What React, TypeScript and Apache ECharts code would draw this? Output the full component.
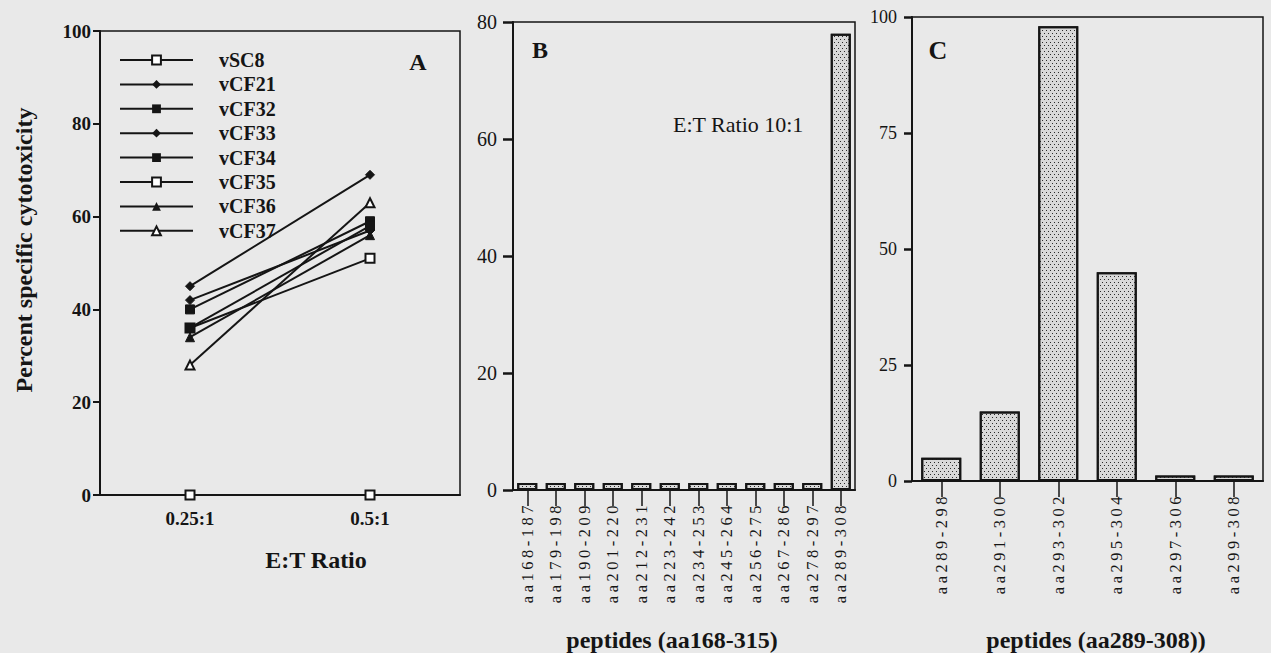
import React, { useEffect, useRef } from "react";
import * as echarts from "echarts";

const ratioCategories = ["0.25:1", "0.5:1"];
const vSC8 = [0, 0];
const vCF21 = [45, 69];
const vCF32 = [40, 59];
const vCF33 = [42, 57];
const vCF34 = [36, 58];
const vCF35 = [36, 51];
const vCF36 = [34, 56];
const vCF37 = [28, 63];

const peptidesB = [
  "aa168-187", "aa179-198", "aa190-209", "aa201-220", "aa212-231", "aa223-242",
  "aa234-253", "aa245-264", "aa256-275", "aa267-286", "aa278-297", "aa289-308",
];
const valuesB = [1.2, 1.2, 1.2, 1.2, 1.2, 1.2, 1.2, 1.2, 1.2, 1.2, 1.2, 78];

const peptidesC = ["aa289-298", "aa291-300", "aa293-302", "aa295-304", "aa297-306", "aa299-308"];
const valuesC = [5, 15, 98, 45, 1.2, 1.2];

const yTicksA = { min: 0, max: 100, interval: 20 };
const yTicksB = { min: 0, max: 80, interval: 20 };
const yTicksC = { min: 0, max: 100, interval: 25 };

const FONT = "Liberation Serif";
const INK = "#151515";

export default function App() {
  const ref = useRef<HTMLDivElement>(null);
  useEffect(() => {
    if (!ref.current) return;
    const chart = echarts.init(ref.current, undefined, { renderer: "svg" });

    const lineDefs = [
      { name: "vSC8", data: vSC8, symbol: "emptyRect", z: 2 },
      { name: "vCF21", data: vCF21, symbol: "diamond", z: 2 },
      { name: "vCF32", data: vCF32, symbol: "rect", z: 2 },
      { name: "vCF33", data: vCF33, symbol: "diamond", z: 2 },
      { name: "vCF34", data: vCF34, symbol: "rect", z: 2 },
      { name: "vCF35", data: vCF35, symbol: "emptyRect", z: 1 },
      { name: "vCF36", data: vCF36, symbol: "triangle", z: 2 },
      { name: "vCF37", data: vCF37, symbol: "emptyTriangle", z: 2 },
    ];

    const decal = {
      symbol: "rect",
      symbolSize: 1,
      color: "#2a2a2a",
      dashArrayX: [[1, 3], [0, 2, 1, 1]],
      dashArrayY: [1, 2],
    };

    const barStyle = {
      color: "#d8d8d8",
      borderColor: INK,
      borderWidth: 2,
      decal,
    };

    const axisLine = { show: true, lineStyle: { color: INK, width: 2 } };

    const txt = (text: string, x: number, y: number, size: number, bold: boolean, align = "center", rotation = 0) => ({
      type: "text",
      x,
      y,
      rotation,
      style: {
        text,
        fontFamily: FONT,
        fontSize: size,
        fontWeight: bold ? "bold" : "normal",
        fill: INK,
        textAlign: align,
        textVerticalAlign: "middle",
      },
    });

    const option: any = {
      animation: false,
      backgroundColor: "#e9e9e9",
      textStyle: { fontFamily: FONT },
      grid: [
        { left: 100, top: 31, width: 360, height: 464, show: true, borderColor: INK, borderWidth: 1.5, backgroundColor: "transparent" },
        { left: 513, top: 22, width: 342, height: 468, show: true, borderColor: INK, borderWidth: 1.5, backgroundColor: "transparent" },
        { left: 912, top: 17, width: 351, height: 464, show: true, borderColor: INK, borderWidth: 1.5, backgroundColor: "transparent" },
      ],
      legend: {
        orient: "vertical",
        left: 119,
        top: 50,
        padding: 0,
        itemWidth: 73,
        itemHeight: 11,
        itemGap: 4.4,
        data: lineDefs.map((d) => d.name),
        textStyle: {
          fontFamily: FONT,
          fontWeight: "bold",
          fontSize: 20,
          lineHeight: 20,
          color: INK,
          padding: [0, 0, 0, 21],
        },
      },
      xAxis: [
        {
          gridIndex: 0,
          type: "category",
          data: ratioCategories,
          boundaryGap: true,
          axisLine,
          axisTick: { show: false },
          axisLabel: { fontFamily: FONT, fontWeight: "bold", fontSize: 19, color: INK, margin: 14 },
          splitLine: { show: false },
        },
        {
          gridIndex: 1,
          type: "category",
          data: peptidesB,
          boundaryGap: true,
          axisLine,
          axisTick: { show: true, alignWithLabel: true, length: 16, lineStyle: { color: INK, width: 1.5 } },
          axisLabel: { fontFamily: FONT, fontSize: 16.5, color: INK, rotate: 90, interval: 0, margin: 12 },
          splitLine: { show: false },
        },
        {
          gridIndex: 2,
          type: "category",
          data: peptidesC,
          boundaryGap: true,
          axisLine,
          axisTick: { show: true, alignWithLabel: true, length: 16, lineStyle: { color: INK, width: 1.5 } },
          axisLabel: { fontFamily: FONT, fontSize: 16.5, color: INK, rotate: 90, interval: 0, margin: 12 },
          splitLine: { show: false },
        },
      ],
      yAxis: [
        {
          gridIndex: 0,
          type: "value",
          ...yTicksA,
          axisLine,
          axisTick: { show: true, length: 7, lineStyle: { color: INK, width: 2 } },
          axisLabel: { fontFamily: FONT, fontWeight: "bold", fontSize: 19, color: INK, margin: 9 },
          splitLine: { show: false },
        },
        {
          gridIndex: 1,
          type: "value",
          ...yTicksB,
          axisLine,
          axisTick: { show: true, length: 10, lineStyle: { color: INK, width: 2.5 } },
          axisLabel: { fontFamily: FONT, fontSize: 20, color: INK, margin: 16 },
          splitLine: { show: false },
        },
        {
          gridIndex: 2,
          type: "value",
          ...yTicksC,
          axisLine,
          axisTick: { show: true, length: 8, lineStyle: { color: INK, width: 2.5 } },
          axisLabel: { fontFamily: FONT, fontSize: 18, color: INK, margin: 15 },
          splitLine: { show: false },
        },
      ],
      series: [
        ...lineDefs.map((d) => ({
          name: d.name,
          type: "line",
          xAxisIndex: 0,
          yAxisIndex: 0,
          z: d.z,
          data: d.data,
          symbol: d.symbol,
          symbolSize: 9,
          color: INK,
          lineStyle: { color: INK, width: 2 },
          itemStyle: { color: INK, borderColor: INK },
        })),
        {
          name: "B",
          type: "bar",
          xAxisIndex: 1,
          yAxisIndex: 1,
          data: valuesB,
          barWidth: 20,
          itemStyle: barStyle,
        },
        {
          name: "C",
          type: "bar",
          xAxisIndex: 2,
          yAxisIndex: 2,
          data: valuesC,
          barWidth: 40,
          itemStyle: barStyle,
        },
      ],
      graphic: [
        txt("Percent specific cytotoxicity", 24, 250, 24, true, "center", Math.PI / 2),
        txt("E:T Ratio", 316, 560, 24, true),
        txt("A", 418, 62, 24, true),
        txt("B", 540, 50, 24, true),
        txt("C", 938, 50, 26, true),
        txt("E:T Ratio 10:1", 673, 124, 22, false, "left"),
        txt("peptides (aa168-315)", 672, 640, 24, true),
        txt("peptides (aa289-308))", 1096, 640, 24, true),
      ],
    };
    chart.setOption(option);
    return () => chart.dispose();
  }, []);

  return (
    <>
      <style>{`#chartbox text[style*="16.5px"] { letter-spacing: 3.5px; }`}</style>
      <div
        id="chartbox"
        ref={ref}
        style={{ position: "fixed", left: 0, top: 0, width: 1271, height: 653 }}
      />
    </>
  );
}
